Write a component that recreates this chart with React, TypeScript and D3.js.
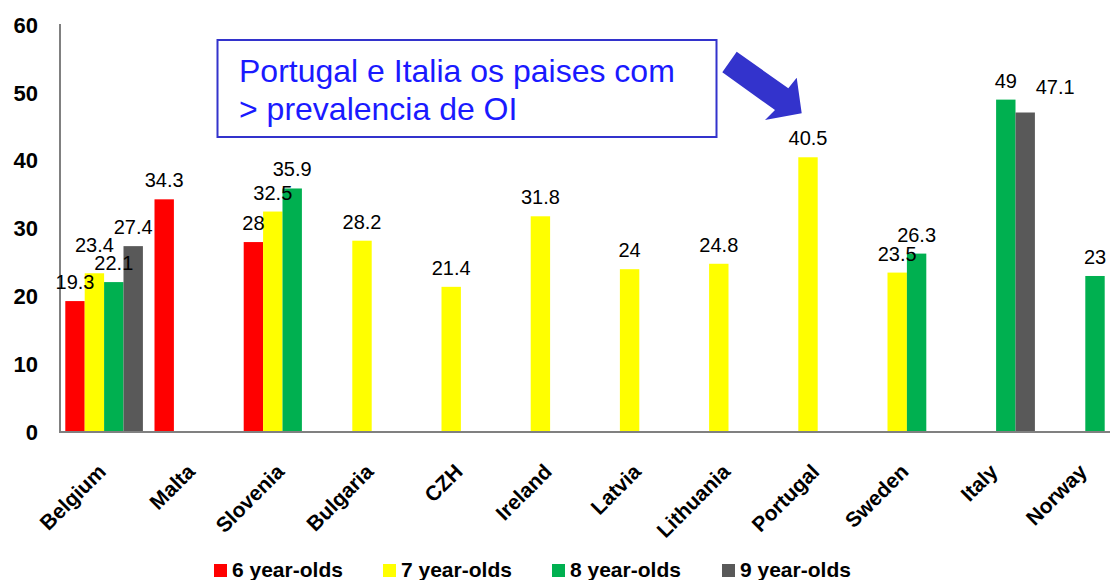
import * as d3 from "d3";

const categories = ["Belgium", "Malta", "Slovenia", "Bulgaria", "CZH", "Ireland", "Latvia", "Lithuania", "Portugal", "Sweden", "Italy", "Norway"];
const seriesNames = ["6 year-olds", "7 year-olds", "8 year-olds", "9 year-olds"];
const six = [19.3, 34.3, 28, null, null, null, null, null, null, null, null, null];
const seven = [23.4, null, 32.5, 28.2, 21.4, 31.8, 24, 24.8, 40.5, 23.5, null, null];
const eight = [22.1, null, 35.9, null, null, null, null, null, null, 26.3, 49, 23];
const nine = [27.4, null, null, null, null, null, null, null, null, null, 47.1, null];
const yTicks = [0, 10, 20, 30, 40, 50, 60];

const values = [six, seven, eight, nine];
const colors = ["#ff0000", "#ffff00", "#00b050", "#595959"];

// label nudges where the original moved overlapping labels
const labelNudge: Record<string, [number, number]> = {
  "Belgium|1": [0, -9],
  "Italy|3": [30, -7],
};

const W = 1110;
const H = 580;
const font = "'Liberation Sans', Arial, sans-serif";

export default function App() {
  const x0 = d3.scaleBand<string>().domain(categories).range([59.5, 59.5 + 12 * 89.2]).padding(0);
  const bw = x0.bandwidth();
  const x1 = d3.scaleBand<string>().domain(seriesNames).range([bw * 0.065, bw * 0.935]).padding(0);
  const y = d3.scaleLinear().domain([0, 60]).range([432, 25]);

  const bars: { key: string; x: number; w: number; v: number; color: string; cat: string; s: number }[] = [];
  values.forEach((arr, s) => {
    arr.forEach((v, i) => {
      if (v == null) return;
      bars.push({
        key: `${s}-${i}`,
        x: x0(categories[i])! + x1(seriesNames[s])!,
        w: x1.bandwidth(),
        v,
        color: colors[s],
        cat: categories[i],
        s,
      });
    });
  });

  const legendX = [214, 383, 552, 722];

  return (
    <div style={{ position: "absolute", left: 0, top: 0 }}>
      <svg width={W} height={H} style={{ display: "block", background: "#fff" }}>
        {bars.map((b) => (
          <rect key={b.key} x={b.x} y={y(b.v)} width={b.w} height={y(0) - y(b.v)} fill={b.color} />
        ))}

        {/* axes */}
        <line x1={60} x2={60} y1={24} y2={433} stroke="#808080" strokeWidth={2} />
        <line x1={59} x2={W} y1={432} y2={432} stroke="#808080" strokeWidth={2} />

        {yTicks.map((t) => (
          <text key={t} x={38} y={y(t)} dy="0.35em" textAnchor="end" fontFamily={font} fontWeight="bold" fontSize={22} fill="#000">
            {t}
          </text>
        ))}

        {bars.map((b) => {
          const n = labelNudge[`${b.cat}|${b.s}`] || [0, 0];
          return (
            <text key={"l" + b.key} x={b.x + b.w / 2 + n[0]} y={y(b.v) - 12 + n[1]} textAnchor="middle" fontFamily={font} fontSize={20} fill="#000">
              {b.v}
            </text>
          );
        })}

        {categories.map((c) => {
          const cx = x0(c)! + bw / 2 + 3;
          return (
            <text key={c} transform={`translate(${cx},473) rotate(-45)`} textAnchor="end" fontFamily={font} fontWeight="bold" fontSize={21} fill="#000">
              {c}
            </text>
          );
        })}

        {/* legend */}
        {seriesNames.map((s, i) => (
          <g key={s}>
            <rect x={legendX[i]} y={564} width={13} height={13} fill={colors[i]} />
            <text x={legendX[i] + 18} y={577} fontFamily={font} fontWeight="bold" fontSize={21} fill="#000">
              {s}
            </text>
          </g>
        ))}

        {/* annotation */}
        <rect x={217.5} y={40} width={499} height={97} fill="#fff" stroke="#3333cc" strokeWidth={2} />
        <text x={239} y={82} fontFamily={font} fontSize={32} fill="#1a1aff">
          Portugal e Italia os paises com
        </text>
        <text x={239} y={120} fontFamily={font} fontSize={32} fill="#1a1aff">
          {"> prevalencia de OI"}
        </text>
        <polygon
          points="736.7,51.7 788.3,88.3 796.7,77.7 801.7,113.3 765,120 775,110 722.3,72.3"
          fill="#3333cc"
        />
      </svg>
    </div>
  );
}
